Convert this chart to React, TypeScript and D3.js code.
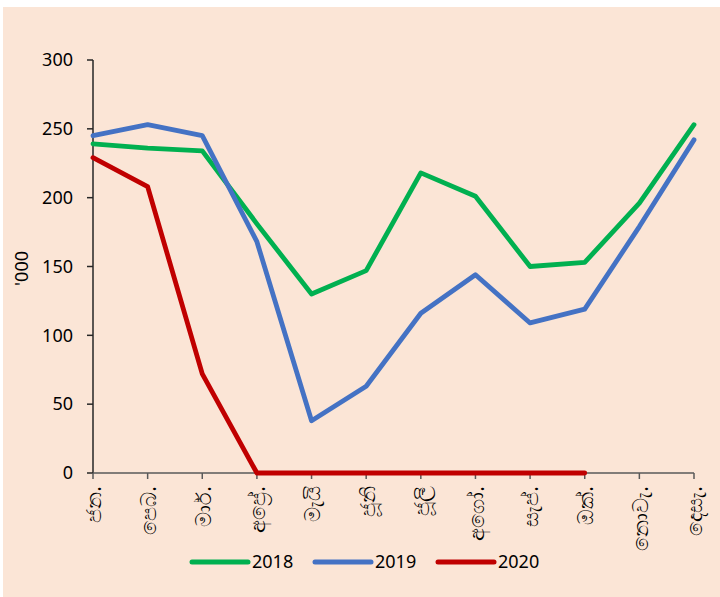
import React from "react";
import * as d3 from "d3";

const months = ["ජන.", "පෙබ.", "මාර්.", "අප්‍රේ.", "මැයි", "ජූනි", "ජූලි", "අගෝ.", "සැප්.", "ඔක්.", "නොවැ.", "දෙසැ."];
const s2018 = [239, 236, 234, 181, 130, 147, 218, 201, 150, 153, 196, 253];
const s2019 = [245, 253, 245, 168, 38, 63, 116, 144, 109, 119, 179, 242];
const s2020 = [229, 208, 72, 0, 0, 0, 0, 0, 0, 0];
const yTicks = [0, 50, 100, 150, 200, 250, 300];
const seriesNames = ["2018", "2019", "2020"];
const seriesColors = ["#00b050", "#4472c4", "#c00000"];

const W = 720, H = 597;
const FONT = "'Noto Sans', 'Open Sans', sans-serif";

export default function App() {
  const x = d3.scalePoint<string>().domain(months).range([93, 694]);
  const y = d3.scaleLinear().domain([0, 300]).range([473, 60]);
  const line = d3.line<number>().x((_, i) => x(months[i]) as number).y((d) => y(d));
  const series = [s2018, s2019, s2020];
  const legendX = [192, 315, 438];

  return (
    <svg width={W} height={H} style={{ position: "absolute", left: 0, top: 0 }} fontFamily={FONT}>
      <rect x={3} y={7} width={W - 3} height={H - 7} fill="#fbe5d6" />
      {/* y axis */}
      <line x1={93} x2={93} y1={y(300)} y2={y(0)} stroke="#262626" strokeWidth={1.5} />
      {yTicks.map((t) => (
        <g key={t}>
          <line x1={87} x2={93} y1={y(t)} y2={y(t)} stroke="#262626" strokeWidth={1.5} />
          <text x={73} y={y(t)} dy="0.35em" textAnchor="end" fontSize={18} fill="#000">{t}</text>
        </g>
      ))}
      <text transform={`translate(28,${(y(0) + y(300)) / 2 + 2}) rotate(-90)`} textAnchor="middle" fontSize={18} fill="#000">'000</text>
      {/* x axis */}
      <line x1={93} x2={694} y1={y(0)} y2={y(0)} stroke="#595959" strokeWidth={1.5} />
      {months.map((m) => (
        <g key={m}>
          <line x1={x(m)} x2={x(m)} y1={y(0)} y2={y(0) + 6} stroke="#595959" strokeWidth={1.5} />
          <text transform={`translate(${(x(m) as number) + 1},486) rotate(-90)`} dy="0.35em" textAnchor="end" fontSize={21} fill="#000">{m}</text>
        </g>
      ))}
      {series.map((s, i) => (
        <path key={i} d={line(s) || ""} fill="none" stroke={seriesColors[i]} strokeWidth={4.8} strokeLinejoin="round" strokeLinecap="round" />
      ))}
      {/* legend */}
      {seriesNames.map((n, i) => (
        <g key={n}>
          <line x1={legendX[i]} x2={legendX[i] + 56} y1={562} y2={562} stroke={seriesColors[i]} strokeWidth={5} strokeLinecap="round" />
          <text x={legendX[i] + 60} y={562} dy="0.35em" fontSize={18} fill="#000">{n}</text>
        </g>
      ))}
    </svg>
  );
}
